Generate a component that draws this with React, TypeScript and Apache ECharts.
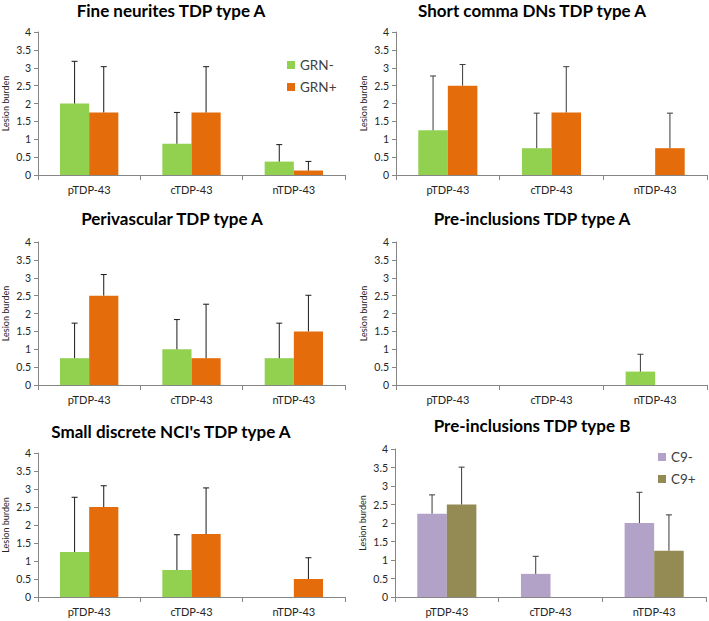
import React, { useEffect, useRef } from "react";
import * as echarts from "echarts";

// ---------- data ----------
const categories = ["pTDP-43", "cTDP-43", "nTDP-43"];

const panelTitles = [
  "Fine neurites TDP type A",
  "Short comma DNs TDP type A",
  "Perivascular TDP type A",
  "Pre-inclusions TDP type A",
  "Small discrete NCI's TDP type A",
  "Pre-inclusions TDP type B",
];

const grnNames = ["GRN-", "GRN+"];
const c9Names = ["C9-", "C9+"];

// Fine neurites
const fineNeg = [2.0, 0.875, 0.375];
const finePos = [1.75, 1.75, 0.125];
const fineNegErr = [3.18, 1.75, 0.85];
const finePosErr = [3.03, 3.03, 0.38];

// Short comma DNs
const commaNeg = [1.25, 0.75, 0];
const commaPos = [2.5, 1.75, 0.75];
const commaNegErr = [2.77, 1.73, null];
const commaPosErr = [3.09, 3.03, 1.73];

// Perivascular
const periNeg = [0.75, 1.0, 0.75];
const periPos = [2.5, 0.75, 1.5];
const periNegErr = [1.73, 1.83, 1.73];
const periPosErr = [3.09, 2.26, 2.51];

// Pre-inclusions type A
const preANeg = [0, 0, 0.375];
const preAPos = [0, 0, 0];
const preANegErr = [null, null, 0.86];
const preAPosErr = [null, null, null];

// Small discrete NCI's
const nciNeg = [1.25, 0.75, 0];
const nciPos = [2.5, 1.75, 0.5];
const nciNegErr = [2.77, 1.73, null];
const nciPosErr = [3.09, 3.03, 1.09];

// Pre-inclusions type B
const preBNeg = [2.25, 0.625, 2.0];
const preBPos = [2.5, 0, 1.25];
const preBNegErr = [2.76, 1.1, 2.83];
const preBPosErr = [3.51, null, 2.22];

const yMin = 0;
const yMax = 4;
const yInterval = 0.5;

// ---------- layout / style ----------
const FONT = "Lato, 'Liberation Sans', sans-serif";
const GREEN = "#92D050";
const ORANGE = "#E46C0A";
const PURPLE = "#B3A2C7";
const OLIVE = "#948A54";
const CAT_GAP = 0.43;

const grids = [
  { left: 35, top: 32, width: 310, height: 143 },
  { left: 396, top: 32, width: 311, height: 143 },
  { left: 35, top: 242, width: 310, height: 143 },
  { left: 396, top: 242, width: 311, height: 143 },
  { left: 35, top: 453, width: 310, height: 144 },
  { left: 395, top: 449, width: 311, height: 148 },
];

const titlePos = [
  [171, 10],
  [532, 10],
  [172, 218],
  [532, 218],
  [171, 431],
  [532, 425],
];

const panels = [
  { neg: fineNeg, pos: finePos, negErr: fineNegErr, posErr: finePosErr, names: grnNames, colors: [GREEN, ORANGE] },
  { neg: commaNeg, pos: commaPos, negErr: commaNegErr, posErr: commaPosErr, names: grnNames, colors: [GREEN, ORANGE] },
  { neg: periNeg, pos: periPos, negErr: periNegErr, posErr: periPosErr, names: grnNames, colors: [GREEN, ORANGE] },
  { neg: preANeg, pos: preAPos, negErr: preANegErr, posErr: preAPosErr, names: grnNames, colors: [GREEN, ORANGE] },
  { neg: nciNeg, pos: nciPos, negErr: nciNegErr, posErr: nciPosErr, names: grnNames, colors: [GREEN, ORANGE] },
  { neg: preBNeg, pos: preBPos, negErr: preBNegErr, posErr: preBPosErr, names: c9Names, colors: [PURPLE, OLIVE] },
];

function errorSeries(gi: number, vals: number[], errs: (number | null)[], side: number, name: string) {
  const data: any[] = [];
  vals.forEach((v, i) => {
    if (errs[i] != null) data.push([i, v, errs[i]]);
  });
  return {
    type: "custom",
    name,
    xAxisIndex: gi,
    yAxisIndex: gi,
    silent: true,
    z: 3,
    encode: { x: 0, y: [1, 2] },
    data,
    renderItem: (params: any, api: any) => {
      const x = api.value(0);
      const lo = api.coord([x, api.value(1)]);
      const hi = api.coord([x, api.value(2)]);
      const catW = api.size([1, 0])[0];
      const bw = (catW * (1 - CAT_GAP)) / 2;
      const cx = lo[0] + side * (bw / 2);
      const cap = 3;
      const style = { stroke: gi % 2 === 1 ? "#3a3a3a" : "#1a1a1a", lineWidth: 1 };
      return {
        type: "group",
        children: [
          { type: "line", shape: { x1: cx, y1: lo[1], x2: cx, y2: hi[1] }, style },
          { type: "line", shape: { x1: cx - cap, y1: hi[1], x2: cx + cap, y2: hi[1] }, style },
        ],
      };
    },
  };
}

export default function App() {
  const ref = useRef<HTMLDivElement>(null);
  useEffect(() => {
    document.body.style.margin = "0";
    if (!ref.current) return;
    const chart = echarts.init(ref.current, undefined, { renderer: "svg" });

    const xAxis: any[] = [];
    const yAxis: any[] = [];
    const series: any[] = [];

    grids.forEach((g, gi) => {
      xAxis.push({
        type: "category",
        gridIndex: gi,
        data: categories,
        axisLine: { lineStyle: { color: "#868686", width: 1 } },
        axisTick: { show: true, length: 5, lineStyle: { color: "#868686" } },
        axisLabel: { color: "#262626", fontSize: 11, fontFamily: FONT, margin: 9 },
      });
      yAxis.push({
        type: "value",
        gridIndex: gi,
        min: yMin,
        max: yMax,
        interval: yInterval,
        name: "Lesion burden",
        nameLocation: "middle",
        nameGap: 28,
        nameRotate: 90,
        nameTextStyle: { color: "#262626", fontSize: 9, fontFamily: FONT },
        axisLine: { show: true, lineStyle: { color: "#868686", width: 1 } },
        axisTick: { show: true, length: 4, lineStyle: { color: "#868686" } },
        axisLabel: { color: "#262626", fontSize: 10.5, fontFamily: FONT, margin: 7 },
        splitLine: { show: false },
      });
      const p = panels[gi];
      series.push({
        type: "bar",
        name: p.names[0],
        xAxisIndex: gi,
        yAxisIndex: gi,
        data: p.neg,
        itemStyle: { color: p.colors[0] },
        barGap: "0%",
        barCategoryGap: CAT_GAP * 100 + "%",
        silent: true,
      });
      series.push({
        type: "bar",
        name: p.names[1],
        xAxisIndex: gi,
        yAxisIndex: gi,
        data: p.pos,
        itemStyle: { color: p.colors[1] },
        barGap: "0%",
        barCategoryGap: CAT_GAP * 100 + "%",
        silent: true,
      });
      series.push(errorSeries(gi, p.neg, p.negErr, -1, p.names[0]));
      series.push(errorSeries(gi, p.pos, p.posErr, 1, p.names[1]));
    });

    const graphic: any[] = panelTitles.map((t, i) => ({
      type: "text",
      x: titlePos[i][0],
      y: titlePos[i][1],
      style: {
        text: t,
        textAlign: "center",
        textVerticalAlign: "middle",
        fontSize: 17,
        fontWeight: "bold",
        fontFamily: FONT,
        fill: "#000",
      },
    }));

    chart.setOption({
      animation: false,
      backgroundColor: "#fff",
      grid: grids.map((g) => ({ ...g, containLabel: false })),
      xAxis,
      yAxis,
      series,
      graphic,
      legend: [
        {
          data: grnNames,
          left: 282,
          top: 53,
          orient: "vertical",
          icon: "rect",
          itemWidth: 8,
          itemHeight: 8,
          itemGap: 8,
          selectedMode: false,
          textStyle: { fontSize: 13.5, fontFamily: FONT, color: "#404040" },
        },
        {
          data: c9Names,
          left: 653,
          top: 445,
          orient: "vertical",
          icon: "rect",
          itemWidth: 8,
          itemHeight: 8,
          itemGap: 8,
          selectedMode: false,
          textStyle: { fontSize: 13.5, fontFamily: FONT, color: "#404040" },
        },
      ],
    });
    return () => chart.dispose();
  }, []);
  return <div ref={ref} style={{ width: 709, height: 621 }} />;
}
